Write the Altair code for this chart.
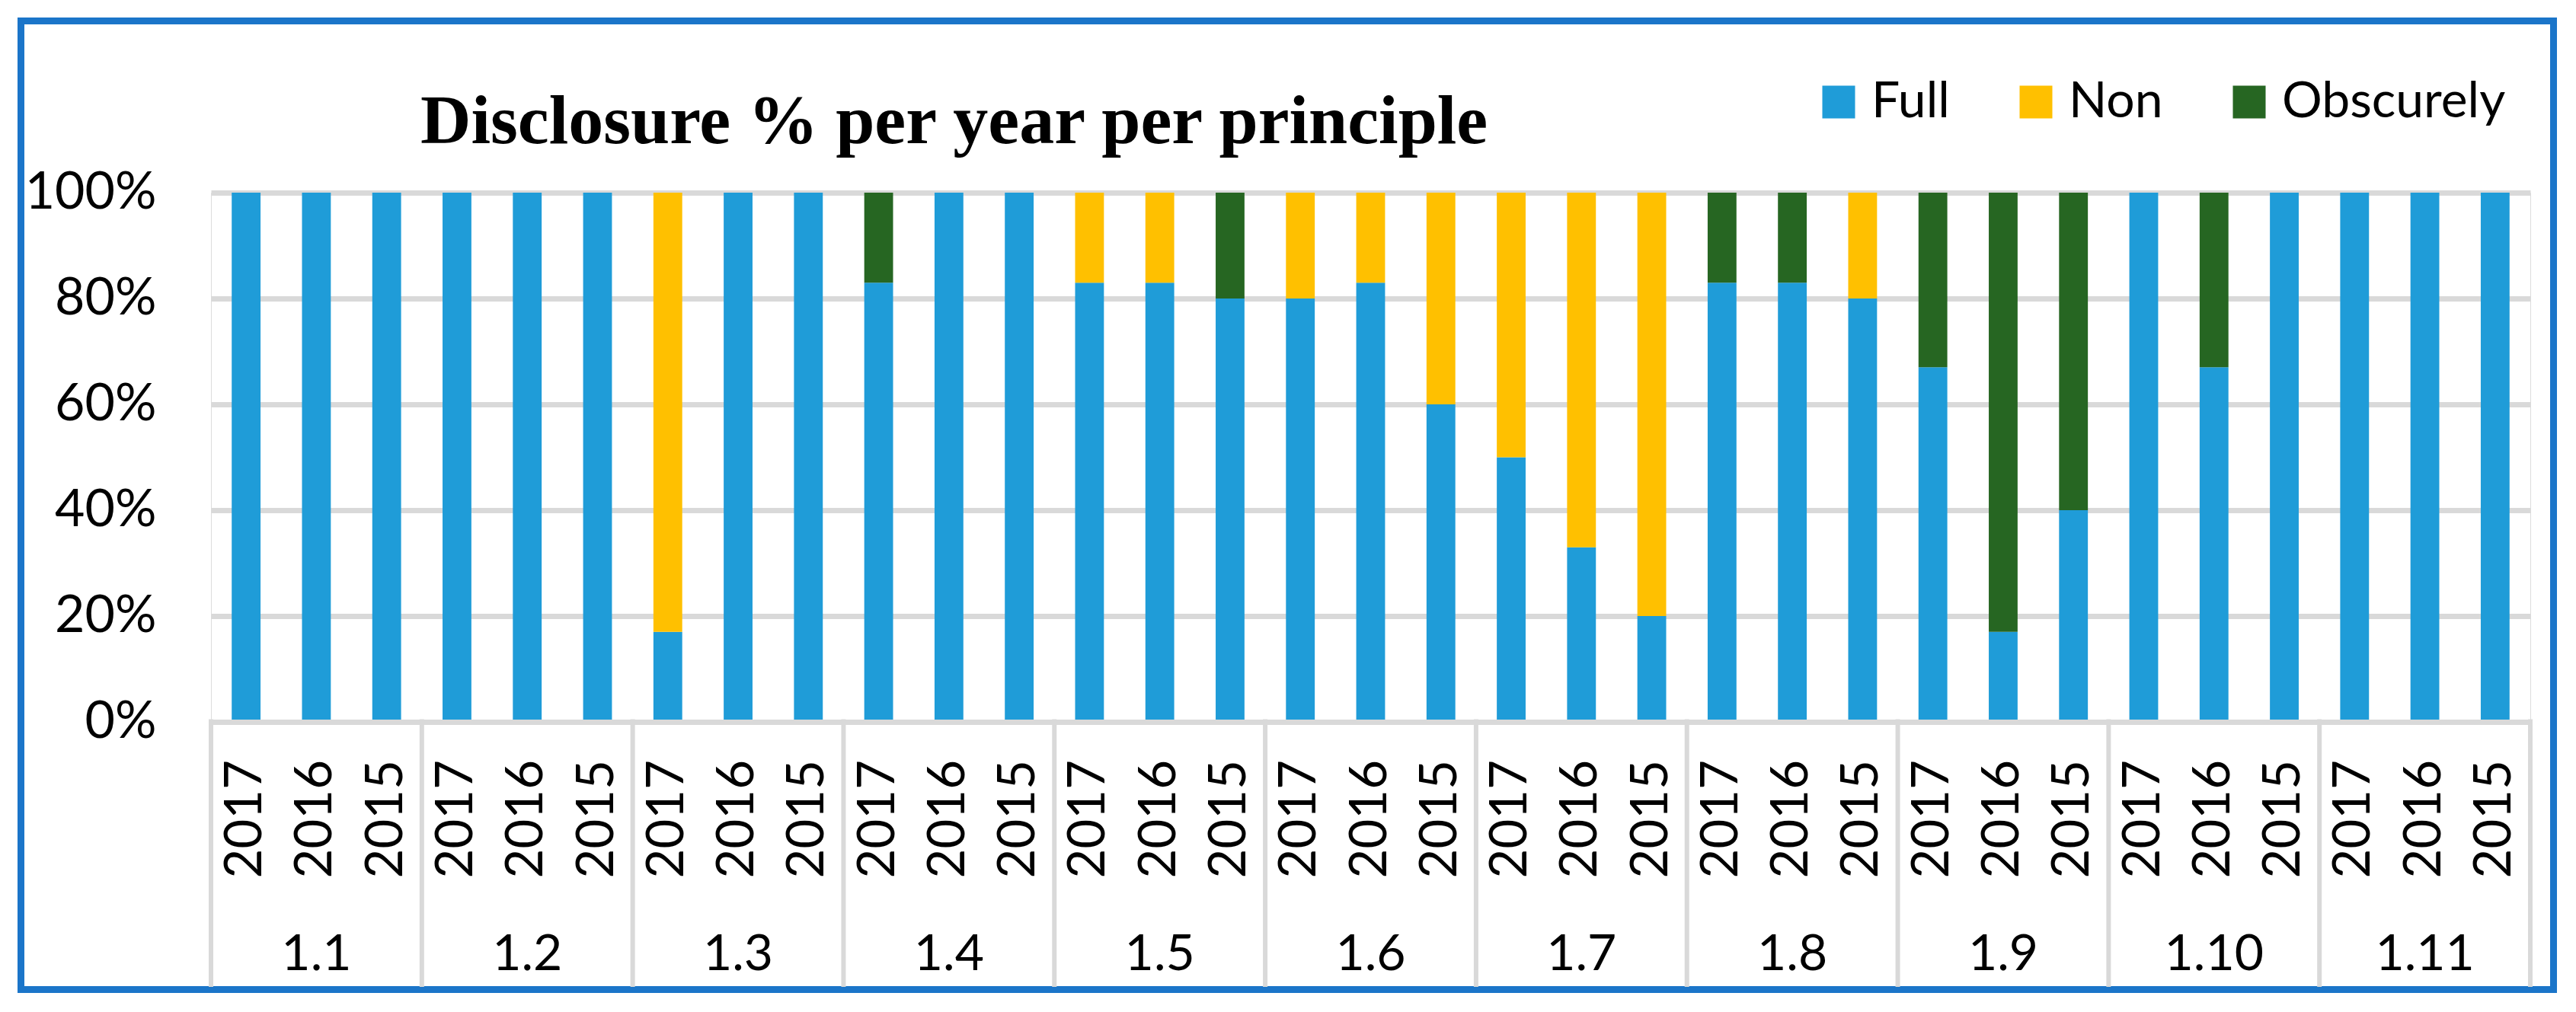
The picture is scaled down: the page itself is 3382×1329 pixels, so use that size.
import altair as alt
import pandas as pd

# ---- data ----
principles = ["1.1", "1.2", "1.3", "1.4", "1.5", "1.6", "1.7", "1.8", "1.9", "1.10", "1.11"]
years = ["2017", "2016", "2015"]
categories = ["Full", "Non", "Obscurely"]
full = [100, 100, 100, 100, 100, 100, 17, 100, 100, 83, 100, 100, 83, 83, 80, 80, 83, 60,
        50, 33, 20, 83, 83, 80, 67, 17, 40, 100, 67, 100, 100, 100, 100]
non = [0, 0, 0, 0, 0, 0, 83, 0, 0, 0, 0, 0, 17, 17, 0, 20, 17, 40,
       50, 67, 80, 0, 0, 20, 0, 0, 0, 0, 0, 0, 0, 0, 0]
obscurely = [0, 0, 0, 0, 0, 0, 0, 0, 0, 17, 0, 0, 0, 0, 20, 0, 0, 0,
             0, 0, 0, 17, 17, 0, 33, 83, 60, 0, 33, 0, 0, 0, 0]
y_ticks = [0, 20, 40, 60, 80, 100]
title_text = "Disclosure % per year per principle"
colors = ["#1F9CD8", "#FFC000", "#266622"]

# ---- tables ----
rows = []
for i in range(len(principles) * len(years)):
    for o, (cat, series) in enumerate(zip(categories, [full, non, obscurely])):
        rows.append({"i": i, "principle": principles[i // 3], "year": years[i % 3],
                     "category": cat, "order": o, "value": series[i]})
bars_df = pd.DataFrame(rows)
years_df = pd.DataFrame([{"i": i, "year": years[i % 3]} for i in range(len(principles) * 3)])
pr_df = pd.DataFrame([{"k": k, "principle": p} for k, p in enumerate(principles)])
sep_df = pd.DataFrame({"s": list(range(len(principles) + 1))})
one = pd.DataFrame({"t": [title_text]})

W, H = 3045, 695
N = len(principles) * len(years)
FONT = "Lato"
GRAY = "#D9D9D9"

xscale = alt.Scale(domain=[0, N], nice=False, zero=False, padding=0)
xaxis = alt.Axis(labels=False, ticks=False, grid=False, domain=True, domainColor=GRAY,
                 domainWidth=7, title=None, zindex=1)

frame = alt.Chart(one).mark_rect(filled=False, stroke="#1B75C9", strokeWidth=9).encode(
    x=alt.value(-249.5), x2=alt.value(W + 30.5), y=alt.value(-225.5), y2=alt.value(H + 351.5)
)

bars = alt.Chart(bars_df).transform_stack(
    stack="value", groupby=["i"], as_=["y0", "y1"], sort=[alt.SortField("order", "ascending")]
).transform_calculate(
    x0="datum.i + 0.295", x1="datum.i + 0.705"
).mark_rect().encode(
    x=alt.X("x0:Q", scale=xscale, axis=xaxis),
    x2="x1:Q",
    y=alt.Y("y0:Q", scale=alt.Scale(domain=[0, 100], nice=False),
            axis=alt.Axis(values=y_ticks, labelExpr="datum.value + '%'", title=None,
                          domain=False, ticks=False, grid=True, gridColor=GRAY, gridWidth=7,
                          labelFont=FONT, labelFontSize=68, labelColor="black",
                          labelPadding=72)),
    y2="y1:Q",
    color=alt.Color("category:N", scale=alt.Scale(domain=categories, range=colors),
                    legend=alt.Legend(orient="none", legendX=2104, legendY=-152,
                                      direction="horizontal", title=None, symbolType="square",
                                      symbolSize=1849, symbolStrokeWidth=0,
                                      labelFont=FONT, labelFontSize=66, labelColor="black",
                                      labelOffset=10, columnPadding=80, padding=0,
                                      labelLimit=0, rowPadding=0)),
)

seps = alt.Chart(sep_df).transform_calculate(xs="datum.s * 3").mark_rule(
    color=GRAY, strokeWidth=6
).encode(
    x=alt.X("xs:Q", scale=xscale, axis=xaxis), y=alt.value(H - 3.5), y2=alt.value(H + 348)
)

year_labels = alt.Chart(years_df).transform_calculate(xc="datum.i + 0.5").mark_text(
    angle=270, align="right", baseline="middle", font=FONT, fontSize=67, color="black"
).encode(
    x=alt.X("xc:Q", scale=xscale, axis=xaxis), y=alt.value(H + 50), text="year:N"
)

pr_labels = alt.Chart(pr_df).transform_calculate(xc="datum.k * 3 + 1.5").mark_text(
    align="center", baseline="alphabetic", font=FONT, fontSize=66, color="black"
).encode(
    x=alt.X("xc:Q", scale=xscale, axis=xaxis), y=alt.value(H + 326), text="principle:N"
)

title = alt.Chart(one).mark_text(
    align="left", baseline="alphabetic", font="Liberation Serif", fontWeight="bold",
    fontSize=92, color="black"
).encode(x=alt.value(275), y=alt.value(-65), text="t:N")

chart = alt.layer(frame, bars, seps, year_labels, pr_labels, title).properties(
    width=W, height=H, padding=15
).configure_view(stroke=None).configure(background="white")

chart.save("out.html", embed_options={"renderer": "svg", "actions": False})
